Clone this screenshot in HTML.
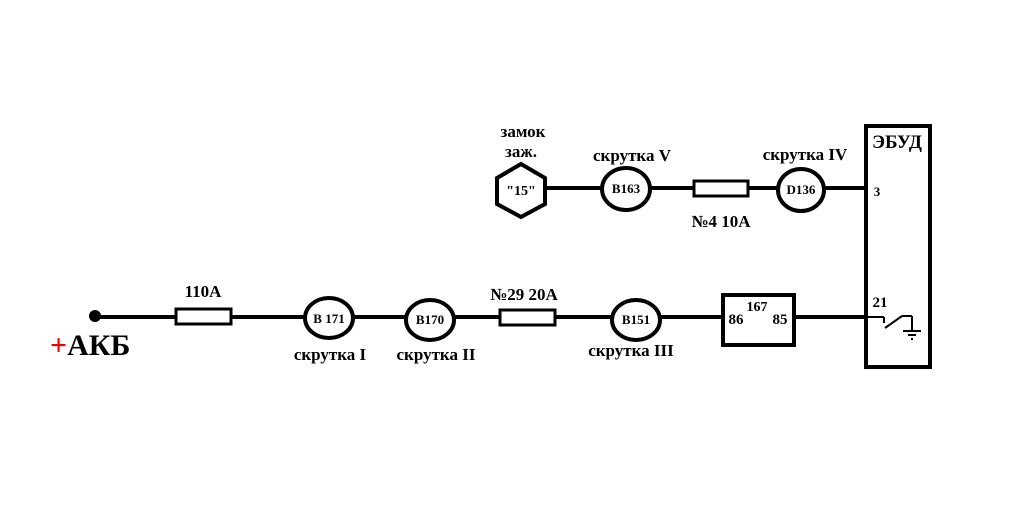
<!DOCTYPE html><html><head><meta charset="utf-8"><style>body{margin:0;background:#fff}svg text{font-family:"Liberation Serif",serif;font-weight:bold}</style></head><body>
<svg width="1025" height="509" viewBox="0 0 1025 509" xmlns="http://www.w3.org/2000/svg">
<g stroke="#000" stroke-width="4" fill="none">
<line x1="540" y1="188" x2="866" y2="188"/>
<line x1="95" y1="317" x2="866" y2="317"/>
<polygon points="521,164 545,178 545,204 521,217 497,204 497,178" fill="#fff"/>
<ellipse cx="626" cy="189" rx="24" ry="21" fill="#fff"/>
<rect x="694" y="181" width="54" height="15" fill="#fff" stroke-width="3"/>
<ellipse cx="801" cy="190" rx="23" ry="21" fill="#fff"/>
<rect x="866" y="126" width="64" height="241" fill="#fff"/>
<rect x="176" y="309" width="55" height="15" fill="#fff" stroke-width="3"/>
<ellipse cx="329" cy="318" rx="24" ry="20" fill="#fff"/>
<ellipse cx="430" cy="320" rx="24" ry="20" fill="#fff"/>
<rect x="500" y="310" width="55" height="15" fill="#fff" stroke-width="3"/>
<ellipse cx="636" cy="320" rx="24" ry="20" fill="#fff"/>
<rect x="723" y="295" width="71" height="50" fill="#fff"/>
<line x1="866" y1="317" x2="884" y2="317" stroke-width="2"/>
<line x1="884" y1="317" x2="884" y2="323" stroke-width="2"/>
<line x1="885" y1="328" x2="902" y2="316" stroke-width="2"/>
<line x1="902" y1="316" x2="912" y2="316" stroke-width="2"/>
<line x1="912" y1="316" x2="912" y2="330" stroke-width="2"/>
<line x1="903" y1="331" x2="921" y2="331" stroke-width="2"/>
<line x1="908" y1="335" x2="916" y2="335" stroke-width="2"/>
<line x1="911" y1="339" x2="913" y2="339" stroke-width="2"/>
</g>
<circle cx="95" cy="316" r="6"/>
<g font-size="17" text-anchor="middle">
<text x="523" y="137">замок</text><text x="521" y="157">заж.</text>
<text x="521" y="195" font-size="14">"15"</text>
<text x="632" y="161">скрутка V</text>
<text x="626" y="193" font-size="13">B163</text>
<text x="721" y="227">№4 10А</text>
<text x="805" y="160">скрутка IV</text>
<text x="801" y="194" font-size="13">D136</text>
<text x="897" y="148" font-size="19">ЭБУД</text>
<text x="877" y="196" font-size="13">3</text>
<text x="880" y="307" font-size="15">21</text>
<text x="203" y="297">110А</text>
<text x="329" y="323" font-size="13">B 171</text>
<text x="330" y="360">скрутка I</text>
<text x="430" y="324" font-size="13">B170</text>
<text x="436" y="360">скрутка II</text>
<text x="524" y="300">№29 20А</text>
<text x="636" y="324" font-size="13">B151</text>
<text x="631" y="356">скрутка III</text>
<text x="757" y="311" font-size="14">167</text>
<text x="736" y="324" font-size="15">86</text>
<text x="780" y="324" font-size="15">85</text>
</g>
<text x="50" y="355" font-size="30"><tspan fill="#e00">+</tspan>АКБ</text>
</svg></body></html>
